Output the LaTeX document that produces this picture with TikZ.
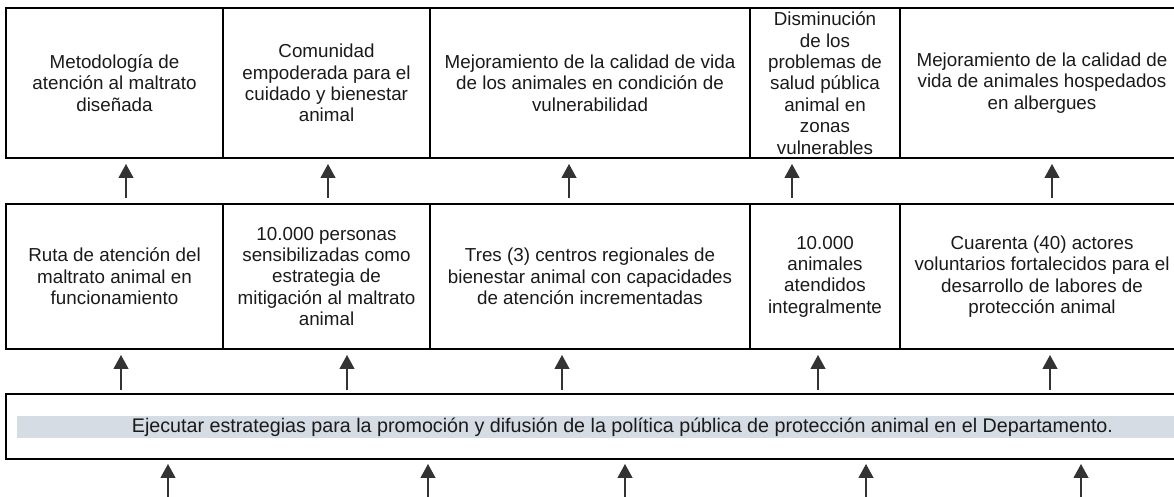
\documentclass[tikz,border=0pt]{standalone}
\usepackage{fontspec}
\setmainfont{Liberation Sans}
\usetikzlibrary{arrows.meta,calc}

\definecolor{bandagris}{HTML}{D6DCE4}
\definecolor{textogris}{HTML}{1A1A1A}

\begin{document}
\begin{tikzpicture}[
    x=1pt, y=1pt,
    caja/.style={draw, line width=2pt, inner sep=0pt, align=center,
        text=textogris, font=\fontsize{18.8}{21.4}\selectfont},
    fila1/.style={caja, minimum height=150pt},
    fila2/.style={caja, minimum height=145pt},
    flecha/.style={-{Triangle[width=15pt,length=14pt]}, line width=1.2pt, draw=black!80}
]
    \useasboundingbox (0,0) rectangle (1174,497);

    % Fines (top row)
    \node[fila1, minimum width=217pt] (fin1) at (114.5,414) {Metodología de\\atención al maltrato\\diseñada};
    \node[fila1, minimum width=207pt] (fin2) at (326.5,414) {Comunidad\\empoderada para el\\cuidado y bienestar\\animal};
    \node[fila1, minimum width=320pt] (fin3) at (590,414) {Mejoramiento de la calidad de vida\\de los animales en condición de\\vulnerabilidad};
    \node[fila1, minimum width=150pt] (fin4) at (825,414) {Disminución\\de los\\problemas de\\salud pública\\animal en\\zonas\\vulnerables};
    \node[fila1, minimum width=284pt] (fin5) at (1042,414) {Mejoramiento de la calidad de\\vida de animales hospedados\\en albergues};

    % Productos (middle row)
    \node[fila2, minimum width=217pt] (prod1) at (114.5,220.5) {Ruta de atención del\\maltrato animal en\\funcionamiento};
    \node[fila2, minimum width=207pt] (prod2) at (326.5,220.5) {10.000 personas\\sensibilizadas como\\estrategia de\\mitigación al maltrato\\animal};
    \node[fila2, minimum width=320pt] (prod3) at (590,220.5) {Tres (3) centros regionales de\\bienestar animal con capacidades\\de atención incrementadas};
    \node[fila2, minimum width=150pt] (prod4) at (825,220.5) {10.000\\animales\\atendidos\\integralmente};
    \node[fila2, minimum width=284pt] (prod5) at (1042,220.5) {Cuarenta (40) actores\\voluntarios fortalecidos para el\\desarrollo de labores de\\protección animal};

    % Objetivo (bottom box)
    \node[caja, minimum width=1234pt, minimum height=65pt] (obj) at (623,70.5) {};
    \node[fill=bandagris, inner sep=0pt, minimum width=1211pt, minimum height=22pt,
        text=textogris, font=\fontsize{19.7}{22}\selectfont] (banda) at (622.5,70)
        {Ejecutar estrategias para la promoción y difusión de la política pública de protección animal en el Departamento.};

    % Arrows
    \foreach \x in {126,328,569,792,1052}
        \draw[flecha] ($(\x,0 |- prod1.north)+(0,5)$) -- ($(\x,0 |- fin1.south)+(0,-5)$);
    \foreach \x in {121,347,562,818,1050}
        \draw[flecha] ($(\x,0 |- obj.north)+(0,3)$) -- ($(\x,0 |- prod1.south)+(0,-5)$);
    \foreach \x in {168,428,625,866,1081}
        \draw[flecha] (\x,-2) -- ($(\x,0 |- obj.south)+(0,-4)$);

\end{tikzpicture}
\end{document}
